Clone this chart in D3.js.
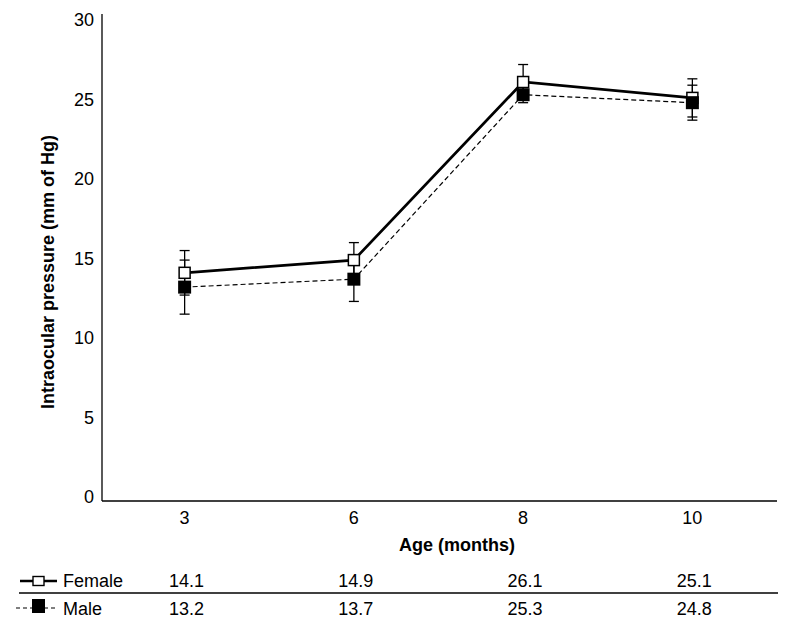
<!DOCTYPE html>
<html><head><meta charset="utf-8">
<script src="https://cdn.jsdelivr.net/npm/d3@7"></script>
<style>body{margin:0;background:#fff;} text{font-family:"Liberation Sans",Arial,sans-serif;}</style>
</head><body><svg id="c" width="800" height="628"></svg>
<script>
const ages = ["3","6","8","10"];
const female = [14.1, 14.9, 26.1, 25.1];
const male = [13.2, 13.7, 25.3, 24.8];
const femaleErr = [1.4, 1.1, 1.1, 1.2];
const maleErr = [1.7, 1.4, 0.5, 1.1];
const yTicks = [0,5,10,15,20,25,30];

const svg = d3.select("#c");
const x = d3.scaleBand().domain(ages).range([100, 777]);
const y = d3.scaleLinear().domain([0,30]).range([497, 20]);
const cx = d => x(d) + x.bandwidth()/2;
const FS = 18;

// axes
svg.append("line").attr("x1",102).attr("x2",102).attr("y1",14).attr("y2",501).attr("stroke","#000").attr("stroke-width",1.3);
svg.append("line").attr("x1",102).attr("x2",777).attr("y1",501).attr("y2",501).attr("stroke","#000").attr("stroke-width",1.3);
svg.selectAll(".yt").data(yTicks).enter().append("text")
  .attr("x",94).attr("y",d=>y(d)).attr("dy","0.36em").attr("text-anchor","end")
  .attr("font-size",FS).text(d=>d);
svg.selectAll(".xt").data(ages).enter().append("text")
  .attr("x",d=>cx(d)).attr("y",524).attr("text-anchor","middle")
  .attr("font-size",FS).text(d=>d);
svg.append("text").attr("x",457).attr("y",551).attr("text-anchor","middle")
  .attr("font-size",FS).attr("font-weight","bold").text("Age (months)");
svg.append("text").attr("transform","translate(54,272) rotate(-90)").attr("text-anchor","middle")
  .attr("font-size",FS).attr("font-weight","bold").text("Intraocular pressure (mm of Hg)");

function errBars(vals, errs){
  const g = svg.append("g").attr("stroke","#000").attr("stroke-width",1.3);
  vals.forEach((v,i)=>{
    const xx = cx(ages[i]);
    g.append("line").attr("x1",xx).attr("x2",xx).attr("y1",y(v+errs[i])).attr("y2",y(v-errs[i]));
    g.append("line").attr("x1",xx-5).attr("x2",xx+5).attr("y1",y(v+errs[i])).attr("y2",y(v+errs[i]));
    g.append("line").attr("x1",xx-5).attr("x2",xx+5).attr("y1",y(v-errs[i])).attr("y2",y(v-errs[i]));
  });
}
errBars(female, femaleErr);
errBars(male, maleErr);

const line = d3.line().x((d,i)=>cx(ages[i])).y(d=>y(d));
svg.append("path").attr("d",line(male)).attr("fill","none").attr("stroke","#000").attr("stroke-width",1.2).attr("stroke-dasharray","5,3");
svg.append("path").attr("d",line(female)).attr("fill","none").attr("stroke","#000").attr("stroke-width",2.7);

const s = 11;
svg.selectAll(".fm").data(female).enter().append("rect")
  .attr("x",(d,i)=>cx(ages[i])-s/2).attr("y",d=>y(d)-s/2).attr("width",s).attr("height",s)
  .attr("fill","#fff").attr("stroke","#000").attr("stroke-width",1.5);
const sm = 13;
svg.selectAll(".mm").data(male).enter().append("rect")
  .attr("x",(d,i)=>cx(ages[i])-sm/2).attr("y",d=>y(d)-sm/2).attr("width",sm).attr("height",sm)
  .attr("fill","#000");

// table
const rows = [{name:"Female", vals:female, yb:587},{name:"Male", vals:male, yb:615}];
svg.append("line").attr("x1",19).attr("x2",778).attr("y1",593).attr("y2",593).attr("stroke","#000").attr("stroke-width",1.5);
// legend symbols
svg.append("line").attr("x1",20).attr("x2",57).attr("y1",581).attr("y2",581).attr("stroke","#000").attr("stroke-width",2.7);
svg.append("rect").attr("x",33).attr("y",576.5).attr("width",11).attr("height",9).attr("fill","#fff").attr("stroke","#000").attr("stroke-width",1.4);
svg.append("line").attr("x1",16).attr("x2",58).attr("y1",608).attr("y2",608).attr("stroke","#000").attr("stroke-width",1.2).attr("stroke-dasharray","4,3");
svg.append("rect").attr("x",32).attr("y",599).attr("width",13).attr("height",14).attr("fill","#000");
rows.forEach(r=>{
  svg.append("text").attr("x",63).attr("y",r.yb).attr("font-size",FS).text(r.name);
  svg.selectAll(null).data(r.vals).enter().append("text")
    .attr("x",(d,i)=>cx(ages[i])+2).attr("y",r.yb).attr("text-anchor","middle")
    .attr("font-size",FS).text(d=>d.toFixed(1));
});
</script></body></html>
